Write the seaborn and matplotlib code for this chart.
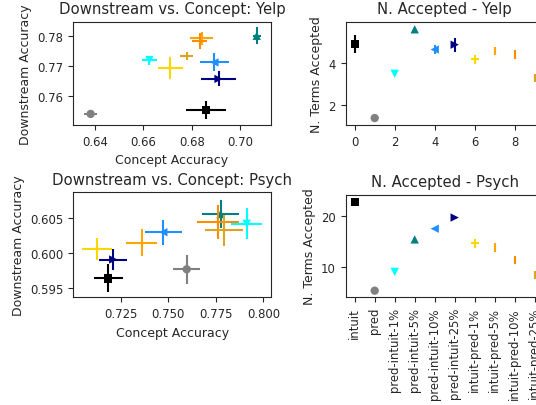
import matplotlib
matplotlib.use("Agg")
import matplotlib.pyplot as plt
import numpy as np
import pandas as pd
import seaborn as sns

# Conditions, their colours and markers
conditions = ["intuit", "pred", "pred-intuit-1%", "pred-intuit-5%", "pred-intuit-10%",
              "pred-intuit-25%", "intuit-pred-1%", "intuit-pred-5%", "intuit-pred-10%",
              "intuit-pred-25%"]
colors = ["black", "gray", "cyan", "teal", "dodgerblue", "navy",
          "gold", "orange", "darkorange", "goldenrod"]
markers = ["s", "o", "v", "^", "<", ">", "+", "|", "|", "|"]

# Yelp: concept accuracy vs downstream accuracy (mean, error)
yelp_concept = [0.6859, 0.6382, 0.6625, 0.7069, 0.6894, 0.6911, 0.6712, 0.6842, 0.6833, 0.6780]
yelp_concept_err = [0.0081, 0.0026, 0.0030, 0.0016, 0.0060, 0.0072, 0.0051, 0.0047, 0.0031, 0.0027]
yelp_down = [0.7553, 0.7539, 0.7719, 0.7800, 0.7711, 0.7656, 0.7692, 0.7792, 0.7783, 0.7733]
yelp_down_err = [0.0030, 0.0013, 0.0015, 0.0028, 0.0030, 0.0025, 0.0036, 0.0022, 0.0027, 0.0009]

# Psych: concept accuracy vs downstream accuracy (mean, error)
psych_concept = [0.7185, 0.7597, 0.7912, 0.7775, 0.7474, 0.7211, 0.7124, 0.7360, 0.7763, 0.7793]
psych_concept_err = [0.0077, 0.0072, 0.0083, 0.0099, 0.0096, 0.0073, 0.0079, 0.0083, 0.0110, 0.0100]
psych_down = [0.5964, 0.5977, 0.6042, 0.6056, 0.6030, 0.5991, 0.6006, 0.6015, 0.6045, 0.6033]
psych_down_err = [0.0020, 0.0021, 0.0022, 0.0020, 0.0018, 0.0015, 0.0016, 0.0019, 0.0024, 0.0022]

# Number of accepted terms
yelp_accepted = [4.90, 1.38, 3.48, 5.59, 4.63, 4.86, 4.16, 4.56, 4.40, 3.29]
yelp_accepted_err = [0.42, 0.08, 0.08, 0.08, 0.20, 0.33, 0.17, 0.10, 0.10, 0.10]
psych_accepted = [22.75, 5.3, 9.0, 15.4, 17.5, 19.7, 14.6, 13.8, 11.3, 8.4]
psych_accepted_err = [0.3, 0.3, 0.3, 0.3, 0.3, 0.3, 0.3, 0.3, 0.3, 0.3]

sns.set_style("ticks")
plt.rcParams["font.family"] = ["DejaVu Sans"]
plt.rcParams["xtick.labelsize"] = 8.4
plt.rcParams["ytick.labelsize"] = 8.4
plt.rcParams["axes.labelsize"] = 9
plt.rcParams["axes.titlesize"] = 10.7

palette = dict(zip(conditions, colors))
marker_map = dict(zip(conditions, markers))
filled = [c for c, m in zip(conditions, markers) if m not in ("+", "|")]
lineart = [c for c, m in zip(conditions, markers) if m in ("+", "|")]

fig = plt.figure(figsize=(5.36, 4.06), dpi=100)
W, H = 536.0, 406.0


def box(x0, y0, x1, y1):
    return [x0 / W, 1 - y1 / H, (x1 - x0) / W, (y1 - y0) / H]


ax_yelp = fig.add_axes(box(73, 22.7, 271, 126))
ax_psych = fig.add_axes(box(73.3, 193.3, 271, 298.3))
ax_ny = fig.add_axes(box(345.7, 22.7, 543.7, 126))
ax_np = fig.add_axes(box(345.7, 195.7, 543.7, 298.3))


def draw_markers(ax, df, x, y):
    sub_f = df[df["condition"].isin(filled)]
    sub_l = df[df["condition"].isin(lineart)]
    sns.scatterplot(data=sub_f, x=x, y=y, hue="condition", style="condition",
                    palette={c: palette[c] for c in filled},
                    markers={c: marker_map[c] for c in filled},
                    s=36, linewidth=0, legend=False, ax=ax)
    sns.scatterplot(data=sub_l, x=x, y=y, hue="condition", style="condition",
                    palette={c: palette[c] for c in lineart},
                    markers={c: marker_map[c] for c in lineart},
                    s=36, linewidth=1.5, legend=False, ax=ax)


def scatter_panel(ax, cx, cxe, dy, dye, title, xlim, ylim):
    df = pd.DataFrame({"condition": conditions, "concept": cx, "down": dy,
                       "cerr": cxe, "derr": dye})
    draw_markers(ax, df, "concept", "down")
    for _, r in df.iterrows():
        ax.errorbar(r["concept"], r["down"], xerr=r["cerr"], yerr=r["derr"],
                    fmt="none", ecolor=palette[r["condition"]], elinewidth=1.5)
    ax.set_xlim(*xlim)
    ax.set_ylim(*ylim)
    ax.set_title(title)
    ax.set_xlabel("Concept Accuracy")
    ax.set_ylabel("Downstream Accuracy")


def accepted_panel(ax, vals, errs, title, labels):
    df = pd.DataFrame({"condition": conditions, "pos": np.arange(len(conditions)),
                       "n": vals, "err": errs})
    draw_markers(ax, df, "pos", "n")
    for _, r in df.iterrows():
        ax.errorbar(r["pos"], r["n"], yerr=r["err"], fmt="none",
                    ecolor=palette[r["condition"]], elinewidth=1.5)
    ax.set_xlim(-0.45, 9.45)
    ax.set_title(title)
    ax.set_xlabel("")
    ax.set_ylabel("N. Terms Accepted")
    if labels:
        ax.set_xticks(np.arange(len(conditions)))
        ax.set_xticklabels(conditions, rotation=90)


scatter_panel(ax_yelp, yelp_concept, yelp_concept_err, yelp_down, yelp_down_err,
              "Downstream vs. Concept: Yelp", (0.6309, 0.7128), (0.7502, 0.7847))
ax_yelp.set_xticks([0.64, 0.66, 0.68, 0.70])
ax_yelp.set_yticks([0.76, 0.77, 0.78])

scatter_panel(ax_psych, psych_concept, psych_concept_err, psych_down, psych_down_err,
              "Downstream vs. Concept: Psych", (0.7001, 0.8040), (0.5937, 0.6087))
ax_psych.set_xticks([0.725, 0.750, 0.775, 0.800])
ax_psych.set_yticks([0.595, 0.600, 0.605])

accepted_panel(ax_ny, yelp_accepted, yelp_accepted_err, "N. Accepted - Yelp", False)
ax_ny.set_ylim(1.05, 5.95)
ax_ny.set_xticks([0, 2, 4, 6, 8])
ax_ny.set_yticks([2, 4])

accepted_panel(ax_np, psych_accepted, psych_accepted_err, "N. Accepted - Psych", True)
ax_np.set_ylim(4.0, 24.2)
ax_np.set_yticks([10, 20])

fig.savefig("out.png", dpi=100)
